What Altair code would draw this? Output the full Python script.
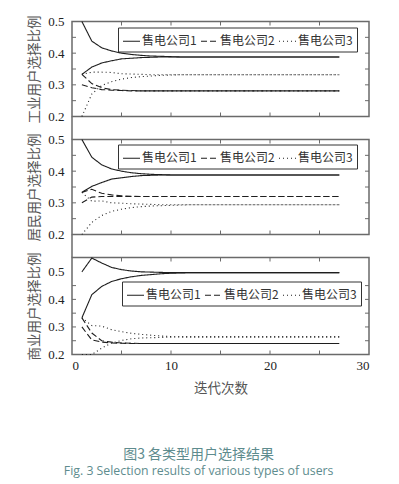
import altair as alt
import pandas as pd

# iteration index shared by every trajectory
iters = list(range(1, 28))
companies = ["售电公司1", "售电公司2", "售电公司3"]

# 工业用户: start (0.5, 0.3, 0.2) and start (1/3, 1/3, 1/3)
ind_a1 = [0.500, 0.438, 0.417, 0.407, 0.400, 0.396, 0.393, 0.391, 0.390, 0.389] + [0.388] * 17
ind_a2 = [0.300, 0.291, 0.285, 0.283, 0.282] + [0.281] * 22
ind_a3 = [0.200, 0.271, 0.298, 0.310, 0.318, 0.323, 0.326, 0.328, 0.330, 0.331] + [0.332] * 17
ind_b1 = [0.333, 0.356, 0.369, 0.376, 0.382, 0.384, 0.386, 0.387] + [0.388] * 19
ind_b2 = [0.333, 0.304, 0.291, 0.285, 0.283, 0.282] + [0.281] * 21
ind_b3 = [0.333, 0.340, 0.340, 0.339, 0.335, 0.334, 0.333] + [0.332] * 20

# 居民用户
res_a1 = [0.500, 0.444, 0.420, 0.407, 0.400, 0.395, 0.392, 0.390, 0.389] + [0.388] * 18
res_a2 = [0.300, 0.318] + [0.320] * 25
res_a3 = [0.200, 0.238, 0.260, 0.273, 0.280, 0.285, 0.288, 0.290, 0.291, 0.292, 0.293] + [0.294] * 16
res_b1 = [0.333, 0.352, 0.364, 0.375, 0.379, 0.383, 0.386, 0.387] + [0.388] * 19
res_b2 = [0.333, 0.343, 0.330, 0.325, 0.322, 0.321] + [0.320] * 21
res_b3 = [0.333, 0.305, 0.306, 0.300, 0.299, 0.297, 0.296, 0.295] + [0.294] * 19

# 商业用户
com_a1 = [0.500, 0.550, 0.532, 0.516, 0.508, 0.503, 0.500, 0.499, 0.498] + [0.497] * 18
com_a2 = [0.300, 0.253, 0.245, 0.242, 0.241] + [0.240] * 22
com_a3 = [0.200, 0.200, 0.223, 0.242, 0.251, 0.257, 0.260, 0.261, 0.262, 0.263] + [0.264] * 17
com_b1 = [0.333, 0.417, 0.447, 0.465, 0.475, 0.482, 0.487, 0.490, 0.493, 0.495, 0.496] + [0.497] * 16
com_b2 = [0.333, 0.278, 0.250, 0.245, 0.242, 0.241] + [0.240] * 21
com_b3 = [0.333, 0.305, 0.303, 0.290, 0.283, 0.277, 0.273, 0.270, 0.267, 0.265] + [0.264] * 17

y_titles = ["工业用户选择比例", "居民用户选择比例", "商业用户选择比例"]
y_domains = [[0.2, 0.5], [0.2, 0.5], [0.2, 0.552]]
y_label_values = [0.2, 0.3, 0.4, 0.5]
y_minor_ticks = [0.25, 0.3, 0.35, 0.4, 0.45]
x_label_values = [0, 10, 20, 30]
x_minor_ticks = [5, 10, 15, 20, 25]
x_title = "迭代次数"

W = 297
heights = [95, 95, 97]
GAP = 23
legend_pos = [(46, 6), (46, 5), (50, 24)]

LINE = "#1e1e1e"
FRAME = "#6a6a6a"
NUM_FONT = "Liberation Serif"
CJK_FONT = "Noto Sans CJK SC"


def frame(series):
    rows = []
    for traj, vals in series:
        for comp, seq in zip(companies, vals):
            for it, v in zip(iters, seq):
                rows.append({"iter": it, "ratio": v, "company": comp, "traj": traj})
    return pd.DataFrame(rows)


panels_data = [
    frame([("A", [ind_a1, ind_a2, ind_a3]), ("B", [ind_b1, ind_b2, ind_b3])]),
    frame([("A", [res_a1, res_a2, res_a3]), ("B", [res_b1, res_b2, res_b3])]),
    frame([("A", [com_a1, com_a2, com_a3]), ("B", [com_b1, com_b2, com_b3])]),
]


def panel(i):
    H = heights[i]
    xs = alt.Scale(domain=[0, 30], nice=False, zero=False)
    ys = alt.Scale(domain=y_domains[i], nice=False, zero=False)
    last = i == 2
    if last:
        x_axis = alt.Axis(values=x_label_values, title=x_title, format="d",
                          labelPadding=5, titlePadding=9)
    else:
        x_axis = None
    y_axis = alt.Axis(values=y_label_values, format=".1f", title=y_titles[i])
    lx, ly = legend_pos[i]
    lines = alt.Chart(panels_data[i]).mark_line(color=LINE, strokeWidth=1.1).encode(
        x=alt.X("iter:Q", scale=xs, axis=x_axis),
        y=alt.Y("ratio:Q", scale=ys, axis=y_axis),
        strokeDash=alt.StrokeDash(
            "company:N",
            scale=alt.Scale(domain=companies, range=[[1, 0], [6, 3], [1, 3]]),
            legend=alt.Legend(
                orient="none", legendX=lx, legendY=ly, direction="horizontal",
                title=None, symbolType="stroke", symbolSize=289,
                symbolStrokeColor=LINE, symbolStrokeWidth=1.1,
                labelFont=CJK_FONT, labelFontSize=12, labelColor="#333",
                labelOffset=1, columnPadding=1, padding=4,
                strokeColor="#333", fillColor="white",
            ),
        ),
        detail="traj:N",
    )

    # inward minor/major ticks on all four sides
    yt = pd.DataFrame({"ratio": y_minor_ticks})
    xt = pd.DataFrame({"iter": x_minor_ticks})
    tick_y_left = alt.Chart(yt).mark_rule(color=FRAME).encode(
        y=alt.Y("ratio:Q", scale=ys, axis=y_axis), x=alt.value(0), x2=alt.value(4))
    tick_y_right = alt.Chart(yt).mark_rule(color=FRAME).encode(
        y=alt.Y("ratio:Q", scale=ys, axis=y_axis), x=alt.value(W - 4), x2=alt.value(W))
    tick_x_bot = alt.Chart(xt).mark_rule(color=FRAME).encode(
        x=alt.X("iter:Q", scale=xs, axis=x_axis), y=alt.value(H - 4), y2=alt.value(H))
    tick_x_top = alt.Chart(xt).mark_rule(color=FRAME).encode(
        x=alt.X("iter:Q", scale=xs, axis=x_axis), y=alt.value(0), y2=alt.value(4))

    layers = [lines, tick_y_left, tick_y_right, tick_x_bot, tick_x_top]
    if not last:
        spine = alt.Chart(pd.DataFrame({"k": [0]})).mark_rule(
            color=FRAME, strokeWidth=1.5).encode(
            x=alt.value(0), y=alt.value(H), y2=alt.value(H + GAP))
        layers.append(spine)
    return alt.layer(*layers).properties(width=W, height=H)


chart = alt.vconcat(
    *[panel(i) for i in range(3)], spacing=GAP, bounds="flush"
).resolve_legend(strokeDash="independent").resolve_scale(
    y="independent", strokeDash="independent"
).properties(
    padding={"left": 27, "top": 13.5, "right": 5, "bottom": 5},
    title=alt.TitleParams(
        text="图3 各类型用户选择结果",
        subtitle="Fig. 3 Selection results of various types of users",
        orient="bottom", anchor="middle", frame="bounds",
        font=CJK_FONT, fontSize=14, fontWeight="normal", color="#5e8c8e",
        subtitleFont="Open Sans", subtitleFontSize=12.3, subtitleColor="#5e8c8e",
        subtitlePadding=3, offset=52,
    ),
).configure_view(stroke=FRAME, strokeWidth=1.5).configure_axis(
    ticks=False, domain=False, grid=False,
    labelFont=NUM_FONT, labelFontSize=13, labelColor="#222",
    titleFont=CJK_FONT, titleFontSize=13.5, titleFontWeight="normal", titleColor="#555",
).configure_axisY(labelPadding=8, titlePadding=6).configure_axisX(labelPadding=5)

chart.save("out.html", embed_options={"renderer": "svg", "actions": False})
